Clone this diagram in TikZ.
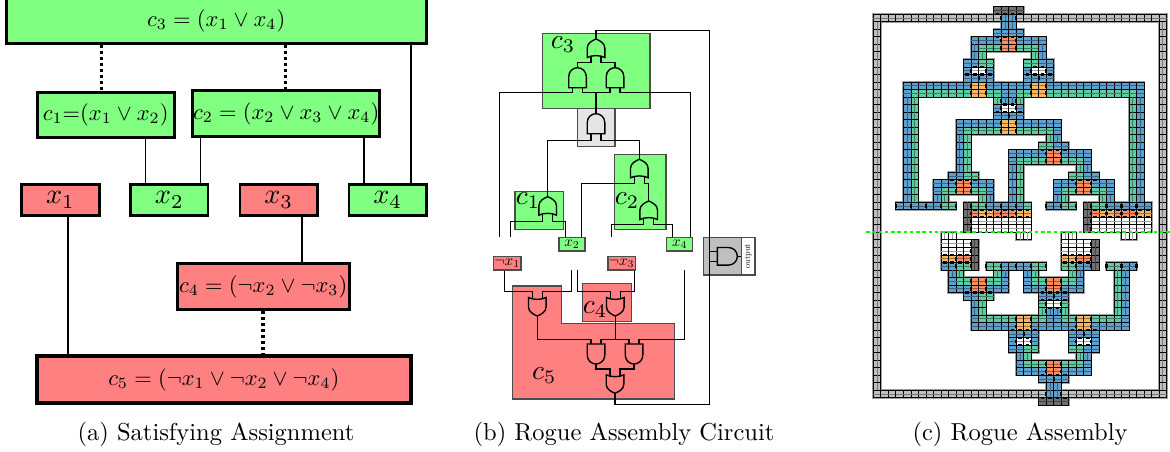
\documentclass[tikz,border=0pt]{standalone}
\usetikzlibrary{calc}
\usepackage{graphicx}
\definecolor{ygreen}{RGB}{128,255,128}
\definecolor{yred}{RGB}{255,128,128}
\definecolor{cB}{RGB}{92,160,205}
\definecolor{cG}{RGB}{96,202,160}
\definecolor{cO}{RGB}{250,140,95}
\definecolor{cY}{RGB}{250,182,95}
\definecolor{cW}{RGB}{255,255,255}
\definecolor{cD}{RGB}{112,112,112}
\definecolor{cR}{RGB}{192,192,192}
\newcommand\sz[2]{\scalebox{#1}{#2}}
\tikzset{
  thickbox/.style={draw=black,line width=1.2pt,inner sep=0pt},
  varbox/.style={draw=black,line width=1.05pt,inner sep=0pt},
  truebox/.style={thickbox,fill=ygreen},
  falsebox/.style={thickbox,fill=yred},
  link/.style={line width=0.5pt,draw=black},
  dotlink/.style={line width=1.25pt,draw=black,dash pattern=on 1.2pt off 1.2pt},
  region/.style={draw=black!70,line width=0.5pt,inner sep=0pt},
  smallvar/.style={region},
  wire/.style={line width=0.42pt,draw=black},
  figcap/.style={},
  bigl/.style={},
  gatebody/.style={draw=black,line width=0.55pt,fill=none},
  pics/andg/.style={code={
    \draw[gatebody] (-8.8,20) -- (-8.8,9) .. controls (-8.8,3.5) and (-4.5,0) .. (0,0)
      .. controls (4.5,0) and (8.8,3.5) .. (8.8,9) -- (8.8,20) -- cycle;
    \coordinate (-o) at (0,0);\coordinate (-a) at (-5,20);\coordinate (-b) at (5,20);}},
  pics/org/.style={code={
    \draw[gatebody] (-8.8,18.5) -- (-8.8,9) .. controls (-8.8,4) and (-3.5,1.5) .. (0,0)
      .. controls (3.5,1.5) and (8.8,4) .. (8.8,9) -- (8.8,18.5)
      .. controls (4,16) and (-4,16) .. cycle;
    \coordinate (-o) at (0,0);\coordinate (-a) at (-5,16.7);\coordinate (-b) at (5,16.7);}},
}
\newcommand\bx[7]{%
  \pgfmathsetmacro\bxcx{(#3+#5)/2}\pgfmathsetmacro\bxcy{(#4+#6)/2}%
  \pgfmathsetmacro\bxw{(#5-#3)*0.4}\pgfmathsetmacro\bxh{(#6-#4)*0.4}%
  \node[#2,minimum width=\bxw pt,minimum height=\bxh pt] (#1) at (\bxcx,\bxcy) {#7};}
% tile grid: the same list is run twice, first for the soft halo, then for the tiles
\newif\ifhalopass
\newcommand\onecell[3]{%
  \ifhalopass\fill[black!38] (#1-.14,#2-.14) rectangle (#1+1.14,#2+1.14);%
  \else\filldraw[fill=#3,draw=black,line width=0.33pt] (#1,#2) rectangle (#1+1,#2+1);\fi}
\newcommand\hrn[4]{\foreach \cc in {#2,...,#3}{\onecell{\cc}{#1}{#4}%
  \ifhalopass\else\draw[#4!62!black,line width=.3pt] (\cc,#1+.5) -- (\cc+1,#1+.5);\fi}}
\newcommand\vrn[4]{\foreach \rr in {#2,...,#3}{\onecell{#1}{\rr}{#4}%
  \ifhalopass\else\draw[#4!62!black,line width=.3pt] (#1+.5,\rr) -- (#1+.5,\rr+1);\fi}}
\newcommand\htk[3]{\foreach \cc in {#2,...,#3}{\draw[black,line width=.85pt] (\cc+.25,#1) -- (\cc+.75,#1);}}
\newcommand\vtk[3]{\foreach \rr in {#2,...,#3}{\draw[black,line width=.85pt] (#1,\rr+.25) -- (#1,\rr+.75);}}
\newcommand\tilelist{%
\hrn{0}{0}{16}{cR}\hrn{0}{19}{38}{cR}\hrn{50}{0}{22}{cR}\hrn{50}{25}{38}{cR}
\vrn{0}{1}{49}{cR}\vrn{38}{1}{49}{cR}
\hrn{-1}{16}{19}{cD}\hrn{51}{22}{25}{cD}
\vrn{17}{0}{1}{cB}\vrn{18}{0}{1}{cB}
\hrn{2}{16}{19}{cB}
\hrn{3}{13}{16}{cB}\hrn{3}{17}{18}{cO}\hrn{3}{19}{22}{cB}
\vrn{13}{4}{5}{cB}\hrn{4}{14}{16}{cG}\hrn{4}{17}{18}{cO}\hrn{4}{19}{21}{cG}\vrn{22}{4}{5}{cB}
\vrn{14}{5}{5}{cG}\vrn{21}{5}{5}{cG}
\hrn{6}{12}{13}{cB}\hrn{6}{14}{15}{cG}\hrn{6}{20}{21}{cG}\hrn{6}{22}{23}{cB}
\hrn{7}{12}{12}{cB}\hrn{7}{13}{14}{cW}\hrn{7}{15}{15}{cB}\hrn{7}{20}{20}{cB}\hrn{7}{21}{22}{cW}\hrn{7}{23}{23}{cB}
\hrn{8}{12}{15}{cB}\hrn{8}{20}{23}{cB}
\hrn{9}{4}{12}{cB}\hrn{9}{13}{14}{cY}\hrn{9}{15}{20}{cB}\hrn{9}{21}{22}{cY}\hrn{9}{23}{35}{cB}
\hrn{10}{4}{4}{cB}\hrn{10}{5}{12}{cG}\hrn{10}{13}{14}{cY}\hrn{10}{15}{16}{cG}\hrn{10}{17}{18}{cB}\hrn{10}{19}{20}{cG}\hrn{10}{21}{22}{cY}\hrn{10}{23}{34}{cG}\hrn{10}{35}{35}{cB}
\vrn{4}{11}{24}{cB}\vrn{5}{11}{24}{cG}\vrn{34}{11}{24}{cG}\vrn{35}{11}{24}{cB}
\vrn{16}{11}{11}{cG}\vrn{17}{11}{11}{cB}\vrn{18}{11}{11}{cB}\vrn{19}{11}{11}{cG}
\hrn{12}{16}{16}{cB}\hrn{12}{17}{18}{cW}\hrn{12}{19}{19}{cB}
\hrn{13}{16}{19}{cB}
\hrn{14}{11}{16}{cB}\hrn{14}{17}{18}{cY}\hrn{14}{19}{24}{cB}
\hrn{15}{11}{11}{cB}\hrn{15}{12}{16}{cG}\hrn{15}{17}{18}{cY}\hrn{15}{19}{23}{cG}\hrn{15}{24}{24}{cB}
\vrn{11}{16}{20}{cB}\vrn{12}{16}{20}{cG}\vrn{23}{16}{16}{cG}\vrn{24}{16}{16}{cB}
\hrn{17}{22}{23}{cG}\hrn{17}{24}{25}{cB}
\hrn{18}{18}{22}{cB}\hrn{18}{23}{24}{cO}\hrn{18}{25}{28}{cB}
\hrn{19}{18}{18}{cB}\hrn{19}{19}{22}{cG}\hrn{19}{23}{24}{cO}\hrn{19}{25}{27}{cG}\hrn{19}{28}{28}{cB}
\vrn{18}{20}{24}{cB}\vrn{19}{20}{24}{cG}\vrn{27}{20}{20}{cG}\vrn{28}{20}{20}{cB}
\hrn{21}{10}{11}{cB}\hrn{21}{12}{13}{cG}\hrn{21}{26}{27}{cG}\hrn{21}{28}{29}{cB}
\hrn{22}{8}{10}{cB}\hrn{22}{11}{12}{cO}\hrn{22}{13}{15}{cB}\hrn{22}{24}{26}{cB}\hrn{22}{27}{28}{cO}\hrn{22}{29}{31}{cB}
\hrn{23}{8}{8}{cB}\hrn{23}{9}{10}{cG}\hrn{23}{11}{12}{cO}\hrn{23}{13}{14}{cG}\hrn{23}{15}{15}{cB}
\hrn{23}{24}{24}{cB}\hrn{23}{25}{26}{cG}\hrn{23}{27}{28}{cO}\hrn{23}{29}{30}{cG}\hrn{23}{31}{31}{cB}
\vrn{8}{24}{24}{cB}\vrn{9}{24}{24}{cG}\vrn{14}{24}{24}{cG}\vrn{15}{24}{24}{cB}\vrn{24}{24}{24}{cB}\vrn{25}{24}{24}{cG}\vrn{30}{24}{24}{cG}\vrn{31}{24}{24}{cB}
\hrn{25}{3}{8}{cB}\hrn{25}{9}{10}{cG}\hrn{25}{13}{14}{cG}\hrn{25}{15}{19}{cB}\hrn{25}{20}{20}{cG}
\hrn{25}{23}{24}{cB}\hrn{25}{25}{26}{cG}\hrn{25}{29}{30}{cG}\hrn{25}{31}{36}{cB}
\vrn{12}{25}{28}{cD}\vrn{28}{25}{28}{cD}
\hrn{26}{13}{13}{cO}\hrn{26}{14}{15}{cY}\hrn{26}{16}{18}{cO}\hrn{26}{19}{20}{cY}
\hrn{26}{29}{29}{cO}\hrn{26}{30}{31}{cY}\hrn{26}{32}{34}{cO}\hrn{26}{35}{36}{cY}
\hrn{27}{13}{20}{cW}\hrn{28}{13}{20}{cW}\hrn{27}{29}{36}{cW}\hrn{28}{29}{36}{cW}
\vrn{19}{29}{29}{cW}\vrn{20}{29}{29}{cW}\vrn{33}{29}{29}{cW}\vrn{34}{29}{29}{cW}
\vrn{9}{29}{29}{cW}\vrn{10}{29}{29}{cW}\vrn{25}{29}{29}{cW}\vrn{26}{29}{29}{cW}
\hrn{30}{9}{12}{cW}\hrn{31}{9}{12}{cW}\hrn{30}{25}{28}{cW}\hrn{31}{25}{28}{cW}
\vrn{13}{30}{33}{cD}\vrn{29}{30}{33}{cD}
\hrn{32}{9}{10}{cY}\hrn{32}{11}{12}{cO}\hrn{32}{25}{26}{cY}\hrn{32}{27}{28}{cO}
\hrn{33}{9}{10}{cB}\hrn{33}{11}{12}{cG}\hrn{33}{15}{16}{cG}\hrn{33}{17}{20}{cB}\hrn{33}{21}{22}{cG}
\hrn{33}{25}{26}{cG}\hrn{33}{27}{28}{cB}\hrn{33}{31}{32}{cG}\hrn{33}{33}{34}{cB}
\vrn{10}{34}{34}{cB}\vrn{11}{34}{34}{cG}\vrn{16}{34}{34}{cG}\vrn{17}{34}{34}{cB}\vrn{20}{34}{34}{cB}\vrn{21}{34}{34}{cG}\vrn{26}{34}{34}{cG}\vrn{27}{34}{34}{cB}
\vrn{32}{34}{39}{cG}\vrn{33}{34}{39}{cB}
\hrn{35}{10}{10}{cB}\hrn{35}{11}{12}{cG}\hrn{35}{13}{14}{cO}\hrn{35}{15}{16}{cG}\hrn{35}{17}{17}{cB}
\hrn{35}{20}{20}{cB}\hrn{35}{21}{22}{cG}\hrn{35}{23}{24}{cO}\hrn{35}{25}{26}{cG}\hrn{35}{27}{27}{cB}
\hrn{36}{10}{12}{cB}\hrn{36}{13}{14}{cO}\hrn{36}{15}{17}{cB}\hrn{36}{20}{22}{cB}\hrn{36}{23}{24}{cO}\hrn{36}{25}{27}{cB}
\hrn{37}{12}{13}{cB}\hrn{37}{14}{15}{cG}\hrn{37}{22}{25}{cB}
\vrn{13}{38}{39}{cB}\vrn{14}{38}{39}{cG}
\hrn{38}{22}{22}{cG}\hrn{38}{23}{24}{cW}\hrn{38}{25}{25}{cG}
\vrn{22}{39}{39}{cG}\vrn{23}{39}{39}{cB}\vrn{24}{39}{39}{cB}\vrn{25}{39}{39}{cG}
\hrn{40}{13}{13}{cB}\hrn{40}{14}{18}{cG}\hrn{40}{19}{20}{cY}\hrn{40}{21}{22}{cG}\hrn{40}{23}{24}{cB}\hrn{40}{25}{26}{cG}\hrn{40}{27}{28}{cY}\hrn{40}{29}{32}{cG}\hrn{40}{33}{33}{cB}
\hrn{41}{13}{18}{cB}\hrn{41}{19}{20}{cY}\hrn{41}{21}{26}{cB}\hrn{41}{27}{28}{cY}\hrn{41}{29}{33}{cB}
\hrn{42}{18}{21}{cB}\hrn{42}{26}{29}{cB}
\hrn{43}{18}{18}{cB}\hrn{43}{19}{20}{cW}\hrn{43}{21}{21}{cB}\hrn{43}{26}{26}{cB}\hrn{43}{27}{28}{cW}\hrn{43}{29}{29}{cB}
\hrn{44}{18}{19}{cB}\hrn{44}{20}{21}{cG}\hrn{44}{26}{27}{cG}\hrn{44}{28}{29}{cB}
\vrn{19}{45}{45}{cB}\vrn{20}{45}{45}{cG}\vrn{27}{45}{45}{cG}\vrn{28}{45}{45}{cB}
\hrn{46}{19}{19}{cB}\hrn{46}{20}{22}{cG}\hrn{46}{23}{24}{cO}\hrn{46}{25}{27}{cG}\hrn{46}{28}{28}{cB}
\hrn{47}{19}{22}{cB}\hrn{47}{23}{24}{cO}\hrn{47}{25}{28}{cB}
\hrn{48}{22}{25}{cB}
\vrn{23}{49}{50}{cB}\vrn{24}{49}{50}{cB}
}
\begin{document}
\begin{tikzpicture}[x=0.4pt,y=-0.4pt]
\useasboundingbox (0,0) rectangle (1170,452);
% ---------- (a)
\bx{ac3}{truebox}{6.2}{-2}{426.2}{43.5}{\sz{.9}{$c_3=(x_1\vee x_4)$}}
\bx{ac1}{truebox}{37.2}{92.2}{174.2}{137.5}{\sz{.9}{$c_1{=}(x_1\vee x_2)$}}
\bx{ac2}{truebox}{192.8}{90.5}{379.5}{136.8}{\sz{.9}{$c_2=(x_2\vee x_3\vee x_4)$}}
\bx{ax1}{varbox,fill=yred}{21.6}{184.6}{99.4}{215.4}{\sz{1.13}{$x_1$}}
\bx{ax2}{varbox,fill=ygreen}{130.6}{184.6}{208}{215.4}{\sz{1.13}{$x_2$}}
\bx{ax3}{varbox,fill=yred}{240}{184.6}{317.4}{215.4}{\sz{1.13}{$x_3$}}
\bx{ax4}{varbox,fill=ygreen}{349}{184.6}{426.4}{215.4}{\sz{1.13}{$x_4$}}
\bx{ac4}{falsebox}{177.2}{263.2}{349.2}{309.8}{\sz{.9}{$c_4=(\neg x_2\vee\neg x_3)$}}
\bx{ac5}{falsebox,line width=1.6pt}{37}{356.3}{410.7}{402.7}{\sz{.9}{$c_5=(\neg x_1\vee\neg x_2\vee\neg x_4)$}}
\draw[dotlink] (101.7,0 |- ac3.south) -- (101.7,0 |- ac1.north);
\draw[dotlink] (285.7,0 |- ac3.south) -- (285.7,0 |- ac2.north);
\draw[dotlink] (263,0 |- ac4.south) -- (263,0 |- ac5.north);
\draw[link] (145.7,0 |- ac1.south) -- (145.7,0 |- ax2.north);
\draw[link] (200.3,0 |- ac2.south) -- (200.3,0 |- ax2.north);
\draw[link] (364,0 |- ac2.south) -- (364,0 |- ax4.north);
\draw[link] (411,0 |- ac3.south) -- (411,0 |- ax4.north);
\draw[link] (68,0 |- ax1.south) -- (68,0 |- ac5.north);
\draw[link] (302,0 |- ax3.south) -- (302,0 |- ac4.north);
\node[figcap] (capa) at (216,434) {\sz{.98}{(a) Satisfying Assignment}};
% ---------- (b) regions
\bx{bc3}{region,fill=ygreen}{542.3}{33.3}{650}{108.3}{}
\bx{bgray}{region,fill=black!10}{577.3}{108.3}{615}{146.7}{}
\bx{bc2}{region,fill=ygreen}{614.3}{154.3}{666}{229.3}{}
\bx{bc1}{region,fill=ygreen}{515}{191.7}{563.3}{229.3}{}
\bx{bc4}{region,fill=yred}{582.3}{283.7}{631.3}{321.3}{}
\filldraw[fill=yred,draw=black!70,line width=0.5pt] (512.3,286) -- (561.3,286) -- (561.3,323.7) -- (674.3,323.7) -- (674.3,399) -- (512.3,399) -- cycle;
\bx{bx2}{smallvar,fill=ygreen}{559}{237.3}{585}{251}{\sz{.6}{$x_2$}}
\bx{bx4}{smallvar,fill=ygreen}{666.7}{237.3}{692.7}{251}{\sz{.6}{$x_4$}}
\bx{bn1}{smallvar,fill=yred}{493.7}{256.3}{521}{270}{\sz{.6}{$\neg x_1$}}
\bx{bn3}{smallvar,fill=yred}{608}{256.3}{635.3}{270}{\sz{.6}{$\neg x_3$}}
\bx{bout}{region,fill=black!25}{703.7}{237.3}{741.3}{275}{}
\bx{boutw}{region,fill=white}{741.3}{237.3}{755}{275}{\rotatebox{90}{\sz{.33}{output}}}
\node[bigl] (lc3) at (563,45) {\sz{1.1}{$c_3$}};
\node[bigl] (lc1) at (528,201) {\sz{1.1}{$c_1$}};
\node[bigl] (lc2) at (627,201) {\sz{1.1}{$c_2$}};
\node[bigl] (lc4) at (595,310) {\sz{1.1}{$c_4$}};
\node[bigl] (lc5) at (544.3,376) {\sz{1.1}{$c_5$}};
% gates
\pic (g3o) at (596,39) {org};
\pic (g3l) at (577.5,67.7) {andg};
\pic (g3r) at (615,67.7) {andg};
\pic (gm) at (596,113.7) {andg};
\pic (g2t) at (639.3,159.3) {org};
\pic (g2b) at (648.7,201) {org};
\pic (g1) at (547.7,196.7) {org};
\pic[rotate=180] (g5t) at (537.3,316) {org};
\pic[rotate=180] (g4) at (615.3,316) {org};
\pic[rotate=180] (g5l) at (596,364) {andg};
\pic[rotate=180] (g5r) at (634,364) {andg};
\pic[rotate=180] (g5o) at (615,393.3) {org};
\pic[rotate=-90] (gout) at (737.3,256.3) {andg};
% free ends
\coordinate (fa) at (499.5,237.3);
\coordinate (fb) at (510.5,237.3);
\coordinate (fc) at (611.5,237.3);
\coordinate (fd) at (571.5,270);
\coordinate (fe) at (577.5,270);
\coordinate (ff) at (684.5,270);
\coordinate (tr) at (709.5,30.5);
\coordinate (br) at (709.5,404.5);
\coordinate (jm) at (596,92.5);
\coordinate (j5) at (615.3,339.5);
% wires
\draw[wire] (g3o-o) -- (g3o-o |- tr) -- (tr) -- (tr |- gout-b);
\draw[wire] (tr |- gout-b) -- (gout-b);
\draw[wire] (gout-a) -- (br |- gout-a) -- (br) -- (g5o-o |- br) -- (g5o-o);
\draw[wire] (gout-o) -- (boutw.west |- gout-o);
\draw[wire] (g3o-a) -- ++(0,6.8) -| (g3l-o);
\draw[wire] (g3o-b) -- ++(0,6.8) -| (g3r-o);
\draw[wire] (g3l-a) -- ++(0,4.8) -| (fa);
\draw[wire] (g3l-b) -- ++(0,4.8) -| (jm);
\draw[wire] (g3r-a) -- ++(0,4.8) -| (jm);
\draw[wire] (g3r-b) -- ++(0,4.8) -| (690.5,0 |- bx4.north);
\draw[wire] (jm) -- (gm-o);
\draw[wire] (gm-a) -- ++(0,6.8) -| (g1-o);
\draw[wire] (gm-b) -- ++(0,6.8) -| (g2t-o);
\draw[wire] (g2t-a) -- ++(0,7.5) -| (581.5,0 |- bx2.north);
\draw[wire] (g2t-b) -- ++(0,7.5) -| (g2b-o);
\draw[wire] (g2b-a) -- ++(0,6.8) -| (fc);
\draw[wire] (g2b-b) -- ++(0,6.8) -| (672.5,0 |- bx4.north);
\draw[wire] (g1-a) -- ++(0,8.1) -| (fb);
\draw[wire] (g1-b) -- ++(0,8.1) -| (565.5,0 |- bx2.north);
\draw[wire] (g5t-b) -- ++(0,-8) -| (504.5,0 |- bn1.south);
\draw[wire] (g5t-a) -- ++(0,-8) -| (fd);
\draw[wire] (g4-b) -- ++(0,-8) -| (fe);
\draw[wire] (g4-a) -- ++(0,-8) -| (634.5,0 |- bn3.south);
\draw[wire] (g5t-o) |- (j5 -| g5l-b) -- (g5l-b);
\draw[wire] (g4-o) -- (j5);
\draw[wire] (g5l-a) -- ++(0,-4.5) -- (g5r-b |- j5) -- (g5r-b);
\draw[wire] (g5r-a) -- ++(0,-4.5) -| (ff);
\draw[wire] (g5l-o) -- ++(0,5) -| (g5o-b);
\draw[wire] (g5r-o) -- ++(0,5) -| (g5o-a);
\node[figcap] (capb) at (624,434) {\sz{.98}{(b) Rogue Assembly Circuit}};
\node[figcap] (capc) at (1020,434) {\sz{.98}{(c) Rogue Assembly}};
% ---------- (c) tiles
\begin{scope}[shift={(873.3,14.3)},x=3.008pt,y=-3.008pt]
\halopasstrue\tilelist
\halopassfalse\tilelist
% glue ticks
\htk{0}{16}{19}\vtk{17}{0}{0}\vtk{19}{0}{0}
\htk{3}{16}{19}\vtk{17}{3}{4}\vtk{19}{3}{4}
\vtk{13}{7}{7}\vtk{15}{7}{7}\htk{7}{13}{14}\htk{8}{12}{15}\vtk{14}{8}{8}\vtk{13}{9}{10}\vtk{15}{9}{10}
\vtk{21}{7}{7}\vtk{23}{7}{7}\htk{7}{21}{22}\htk{8}{20}{23}\vtk{22}{8}{8}\vtk{21}{9}{10}\vtk{23}{9}{10}
\vtk{17}{12}{12}\vtk{19}{12}{12}\htk{12}{17}{18}\htk{13}{16}{19}\vtk{18}{13}{13}\vtk{17}{14}{15}\vtk{19}{14}{15}\vtk{17}{11}{11}\vtk{19}{11}{11}
\htk{18}{22}{25}\vtk{23}{18}{19}\vtk{25}{18}{19}
\htk{22}{10}{13}\vtk{11}{22}{23}\vtk{13}{22}{23}
\htk{22}{26}{29}\vtk{27}{22}{23}\vtk{29}{22}{23}
\vtk{3}{25}{25}\vtk{5}{25}{25}\vtk{7}{25}{25}\vtk{9}{25}{25}\vtk{11}{25}{25}
\vtk{23}{25}{25}\vtk{25}{25}{25}\vtk{27}{25}{25}
\vtk{13}{25}{28}\vtk{15}{25}{26}\vtk{17}{25}{26}\vtk{19}{25}{26}\htk{26}{13}{20}\htk{27}{13}{20}
\vtk{29}{25}{28}\vtk{31}{25}{26}\vtk{33}{25}{26}\vtk{35}{25}{26}\htk{26}{29}{36}\htk{27}{29}{36}
\vtk{13}{30}{33}\vtk{29}{30}{33}\vtk{11}{32}{33}\vtk{27}{32}{33}\htk{32}{9}{12}\htk{33}{9}{12}\htk{32}{25}{28}\htk{33}{25}{28}
\vtk{15}{33}{33}\vtk{17}{33}{33}\vtk{19}{33}{33}\vtk{21}{33}{33}\vtk{23}{33}{33}
\vtk{31}{33}{33}\vtk{33}{33}{33}\vtk{35}{33}{33}
\htk{37}{12}{15}\vtk{13}{35}{36}\vtk{15}{35}{36}
\htk{37}{22}{25}\vtk{23}{35}{36}\vtk{25}{35}{36}\vtk{24}{37}{37}\htk{38}{22}{25}\htk{39}{23}{24}\vtk{23}{38}{39}\vtk{25}{38}{39}
\vtk{19}{40}{41}\vtk{21}{40}{41}\htk{42}{18}{21}\vtk{20}{42}{42}\htk{43}{19}{20}\htk{44}{19}{20}\vtk{19}{43}{43}\vtk{21}{43}{43}
\vtk{27}{40}{41}\vtk{29}{40}{41}\htk{42}{26}{29}\vtk{28}{42}{42}\htk{43}{27}{28}\htk{44}{27}{28}\vtk{27}{43}{43}\vtk{29}{43}{43}
\vtk{23}{46}{47}\vtk{25}{46}{47}\htk{48}{22}{25}\vtk{24}{48}{48}\vtk{23}{50}{50}\vtk{25}{50}{50}\htk{51}{22}{25}
\end{scope}
\draw[line width=0.8pt,draw=green,dash pattern=on 1.4pt off 1.1pt] (866,232.3) -- (1170,232.3);
\end{tikzpicture}
\end{document}
